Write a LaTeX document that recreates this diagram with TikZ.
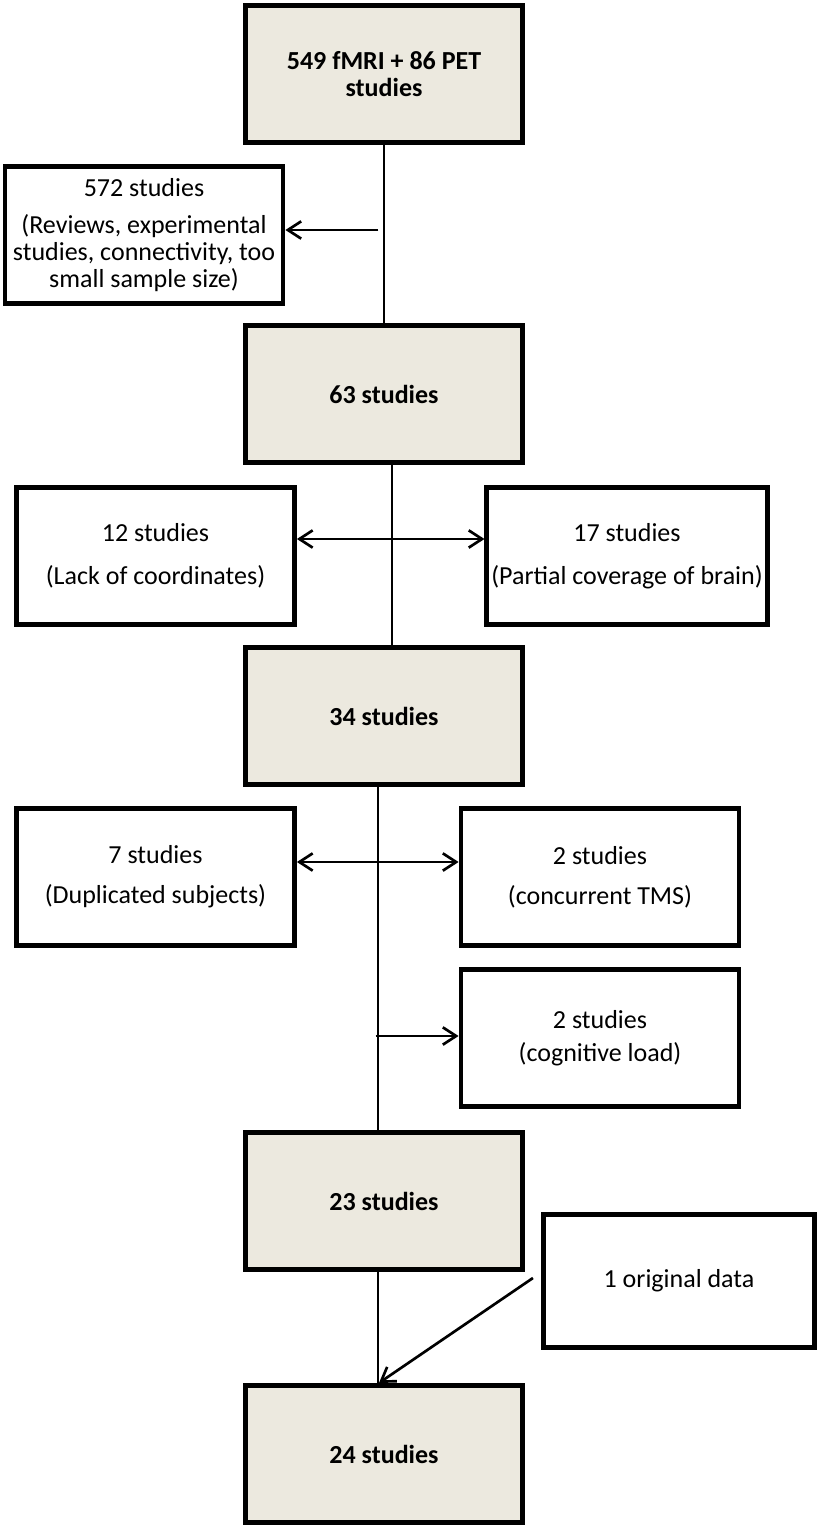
\documentclass[tikz,border=0pt]{standalone}
\usepackage{fontspec}
\setmainfont{Carlito}
\usepackage{tikz}
\usetikzlibrary{calc}
\usetikzlibrary{arrows.meta}
\definecolor{boxfill}{RGB}{236,233,223}
\newcommand{\boxfont}{\fontsize{19.5pt}{20pt}\selectfont}

\begin{document}
\begin{tikzpicture}[x=0.75pt, y=-0.75pt, line width=2pt,
  >={Straight Barb[length=10pt,width=13pt]},
  mainbox/.style={draw, line width=3.6pt, fill=boxfill, minimum width=208pt, minimum height=103pt, align=center, font=\boxfont\bfseries},
  sidebox/.style={draw, line width=3.6pt, fill=white, minimum width=208.5pt, minimum height=102.5pt, align=center, font=\boxfont}]
\useasboundingbox (0,0) rectangle (820,1526);

\node (top) at (384,74) [mainbox] {549 fMRI + 86 PET\\studies};
\foreach \n/\y in {63/394, 34/716, 23/1201, 24/1454} {
\node (n\n) at (384,\y) [mainbox] {\n\ studies};
}

\node (rev) at (144,235) [sidebox] {572 studies\\[8pt](Reviews, experimental\\studies, connectivity, too\\small sample size)};
\node (lack) at (155.5,556) [sidebox] {12 studies\\[12pt](Lack of coordinates)};
\node (part) at (627,556) [sidebox] {17 studies\\[12pt](Partial coverage of brain)};
\node (dup) at (155.5,877) [sidebox] {7 studies\\[10pt](Duplicated subjects)};
\node (tms) at (600,877) [sidebox] {2 studies\\[10pt](concurrent TMS)};
\node (cog) at (600,1038) [sidebox] {2 studies\\[5pt](cognitive load)};
\node (orig) at (679,1281) [sidebox, minimum width=203.5pt, minimum height=100pt] {1 original data};

% main line with the exclusions
\draw (top.south) -- (n63.north);
\draw[->] ($(rev.east)+(93,-5)$) -- ($(rev.east)+(0,-5)$);

\draw ($(n63.south)+(8,0)$) -- ($(n34.north)+(8,0)$);
\draw[<->] ($(lack.east)+(0,-17)$) -- ($(part.west)+(0,-17)$);

\draw ($(n34.south)+(-6,0)$) -- ($(n23.north)+(-6,0)$);
\draw[<->] ($(dup.east)+(0,-15)$) -- ($(tms.west)+(0,-15)$);
\draw[->] ($(cog.west)+(-83,-2)$) -- ($(cog.west)+(0,-2)$);

\draw ($(n23.south)+(-6,0)$) -- ($(n24.north)+(-6,0)$);
\draw[->] ($(orig.west)+(-8,-3)$) -- ($(n24.north)+(-5,0)$);

\end{tikzpicture}
\end{document}
